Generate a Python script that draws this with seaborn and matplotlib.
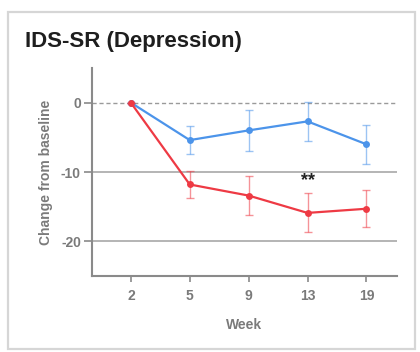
import matplotlib
matplotlib.use("Agg")
import matplotlib.pyplot as plt
from matplotlib.patches import Rectangle
import pandas as pd
import seaborn as sns

# Weekly change from baseline (mean and error) for the two groups
weeks = ["2", "5", "9", "13", "19"]
blue_mean = [0.0, -5.4, -4.0, -2.7, -6.0]
blue_err = [0.0, 2.0, 2.9, 2.8, 2.8]
red_mean = [0.0, -11.8, -13.4, -15.9, -15.3]
red_err = [0.0, 2.0, 2.8, 2.8, 2.7]
y_ticks = [0, -10, -20]
sig_week = "13"
sig_label = "**"
sig_y = -11.2

blue_col = "#4c94ea"
red_col = "#ee3a44"
axis_col = "#8a8a8a"
text_col = "#7a7a7a"

sns.set_theme(style="white")
plt.rcParams["font.family"] = ["Liberation Sans", "DejaVu Sans"]

pos = list(range(len(weeks)))
df = pd.DataFrame({
    "pos": pos * 2,
    "mean": blue_mean + red_mean,
    "err": blue_err + red_err,
    "group": ["blue"] * len(weeks) + ["red"] * len(weeks),
})

fig = plt.figure(figsize=(4.2, 3.52), dpi=100)
fig.patch.set_facecolor("white")

# card frame
fig.add_artist(Rectangle((8 / 420, 3 / 352), 407 / 420, 337 / 352,
                         transform=fig.transFigure, fill=False,
                         edgecolor="#d6d6d6", lw=1.6))

ax = fig.add_axes([92 / 420, 76 / 352, 305 / 420, 208 / 352])

# horizontal reference lines
ax.axhline(0, color="#9a9a9a", lw=1.0, ls=(0, (3, 2)), zorder=0)
for yv in y_ticks[1:]:
    ax.axhline(yv, color="#a8a8a8", lw=1.2, zorder=0)

palette = {"blue": blue_col, "red": red_col}
sns.lineplot(data=df, x="pos", y="mean", hue="group", palette=palette,
             marker="o", markersize=5, markeredgewidth=0, lw=1.6,
             legend=False, ax=ax, zorder=3)

for g, sub in df.groupby("group"):
    ax.errorbar(sub["pos"], sub["mean"], yerr=sub["err"], fmt="none",
                ecolor=palette[g], elinewidth=1.0, capsize=3, capthick=1.0,
                alpha=0.55, zorder=2)

ax.text(weeks.index(sig_week), sig_y, sig_label, ha="center", va="center",
        fontsize=13, fontweight="bold", color="#222222")

ax.set_xlim(-0.66, 4.52)
ax.set_ylim(-25, 5)
ax.set_xticks(pos)
ax.set_xticklabels(weeks)
ax.set_yticks(y_ticks)
ax.set_yticklabels([str(v) for v in y_ticks])

for s in ["top", "right"]:
    ax.spines[s].set_visible(False)
for s in ["left", "bottom"]:
    ax.spines[s].set_color(axis_col)
    ax.spines[s].set_linewidth(1.5)

ax.tick_params(axis="both", which="both", direction="out",
               width=1.2, color=axis_col, labelcolor=text_col,
               labelsize=10, left=True, bottom=True)
ax.tick_params(axis="y", length=6, pad=2)
ax.tick_params(axis="x", length=4, pad=5)
for lab in ax.get_xticklabels() + ax.get_yticklabels():
    lab.set_fontweight("bold")

ax.set_xlabel("Week", fontsize=10, color=text_col, fontweight="bold",
              labelpad=11)
ax.set_ylabel("Change from baseline", fontsize=10, color=text_col,
              fontweight="bold", labelpad=6)

fig.text(25 / 420, 1 - 41 / 352, "IDS-SR (Depression)", fontsize=16,
         fontweight="bold", color="#1e1e1e", ha="left", va="center")

fig.savefig("out.png", dpi=100)
